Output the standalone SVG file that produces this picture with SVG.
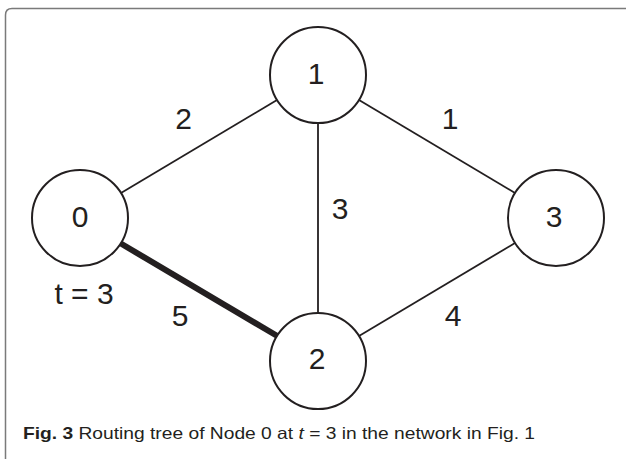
<svg xmlns="http://www.w3.org/2000/svg" width="626" height="459" viewBox="0 0 626 459">
<style>
.node{fill:#fff;stroke:#231f20;stroke-width:2}
.edge{stroke:#231f20;stroke-width:1.8;fill:none}
.thick{stroke:#231f20;stroke-width:6;fill:none}
.lbl{font-family:"Liberation Sans",Arial,sans-serif;font-size:30px;fill:#231f20;text-anchor:middle}
.cap{font-family:"Liberation Sans",Arial,sans-serif;font-size:16.5px;fill:#231f20}
</style>
<rect width="626" height="459" fill="#fff"/>
<path d="M5.5,459 V15 Q5.5,8.5 12,8.5 H626" fill="none" stroke="#7a7a7a" stroke-width="1.5"/>
<g id="connectors">
<line class="edge" x1="121" y1="193" x2="277" y2="100"/>
<line class="edge" x1="359" y1="100" x2="515" y2="193"/>
<line class="edge" x1="318" y1="123" x2="318" y2="313"/>
<line class="thick" x1="120" y1="243" x2="279" y2="337"/>
<line class="edge" x1="359" y1="336" x2="515" y2="243"/>
<text class="lbl" x="183.5" y="129">2</text>
<text class="lbl" x="450" y="129">1</text>
<text class="lbl" x="340" y="219">3</text>
<text class="lbl" x="180" y="326">5</text>
<text class="lbl" x="453" y="326">4</text>
</g>
<g id="node1"><circle class="node" cx="318" cy="75" r="48"/><text class="lbl" x="316" y="84">1</text></g>
<g id="node0"><circle class="node" cx="80" cy="218" r="48"/><text class="lbl" x="80" y="227">0</text><text class="lbl" x="84" y="304">t = 3</text></g>
<g id="node3"><circle class="node" cx="556" cy="218" r="48"/><text class="lbl" x="554" y="227">3</text></g>
<g id="node2"><circle class="node" cx="318" cy="361" r="48"/><text class="lbl" x="317" y="369">2</text></g>
<text class="cap" x="23" y="439" textLength="512" lengthAdjust="spacingAndGlyphs"><tspan font-weight="bold">Fig. 3</tspan> Routing tree of Node 0 at <tspan font-style="italic">t</tspan> = 3 in the network in Fig. 1</text>
</svg>
